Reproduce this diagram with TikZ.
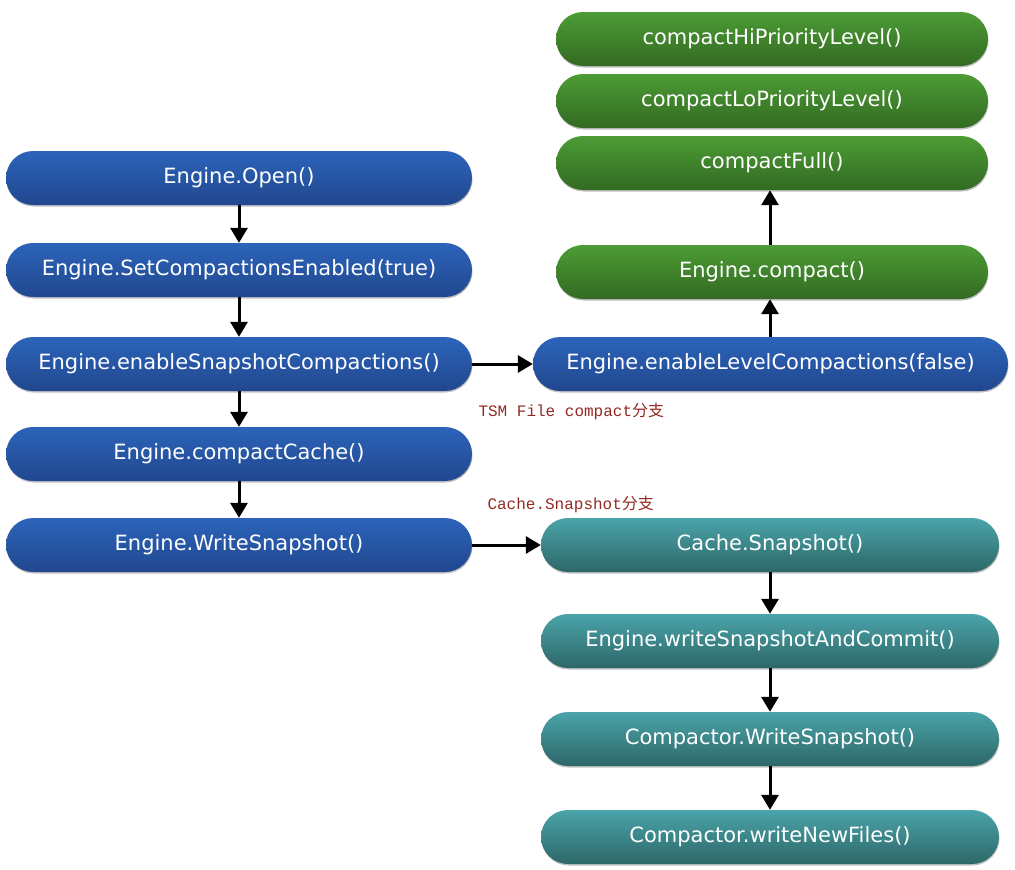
\documentclass[tikz,border=0pt]{standalone}
\usepackage{fontspec}
\setmainfont{DejaVu Sans}
\newfontfamily\monofont{Liberation Mono}
\newfontfamily\cjkfont{Noto Sans CJK SC}
\usetikzlibrary{arrows.meta,shadows}
\definecolor{bluetop}{HTML}{2C64BA}
\definecolor{bluebot}{HTML}{21478E}
\definecolor{greentop}{HTML}{4C9C35}
\definecolor{greenbot}{HTML}{336A22}
\definecolor{tealtop}{HTML}{4AA4AA}
\definecolor{tealbot}{HTML}{2D6768}
\definecolor{branchred}{HTML}{922A22}

\begin{document}
\begin{tikzpicture}[x=1pt, y=-1pt,
	 callnode/.style={rounded corners=27pt, minimum height=54pt, inner sep=0pt,
	   text=white, font=\fontsize{21}{24}\selectfont,
	   drop shadow={shadow xshift=0.5pt, shadow yshift=-1.5pt, opacity=0.35, fill=black!70}},
	 bluenode/.style={callnode, top color=bluetop, bottom color=bluebot},
	 greennode/.style={callnode, top color=greentop, bottom color=greenbot, minimum width=432pt},
	 tealnode/.style={callnode, top color=tealtop, bottom color=tealbot, minimum width=458pt},
	 flow/.style={line width=3pt, -{Triangle[length=15pt,width=17pt]}},
	 branch/.style={anchor=west, text=branchred, font=\monofont\fontsize{16}{18}\selectfont}]
	    \useasboundingbox (0,0) rectangle (1015,870);
	    % main path
	    \node (open) at (239,178) [bluenode, minimum width=466pt] {Engine.Open()};
	    \node (enable) at (239,270) [bluenode, minimum width=466pt] {Engine.SetCompactionsEnabled(true)};
	    \node (snap) at (239,364) [bluenode, minimum width=466pt] {Engine.enableSnapshotCompactions()};
	    \node (cache) at (239,454) [bluenode, minimum width=466pt] {Engine.compactCache()};
	    \node (write) at (239,545) [bluenode, minimum width=466pt] {Engine.WriteSnapshot()};
	    \draw[flow] (open) -- (enable);
	    \draw[flow] (enable) -- (snap);
	    \draw[flow] (snap) -- (cache);
	    \draw[flow] (cache) -- (write);
	    % TSM file compact branch
	    \node (level) at (770.5,364) [bluenode, minimum width=475pt] {Engine.enableLevelCompactions(false)};
	    \node (compact) at (772,272) [greennode] {Engine.compact()};
	    \node (full) at (772,163) [greennode] {compactFull()};
	    \node (lo) at (772,101) [greennode] {compactLoPriorityLevel()};
	    \node (hi) at (772,39) [greennode] {compactHiPriorityLevel()};
	    \draw[flow] (snap.east) -- (level.west);
	    \draw[flow] (level.north -| 770,0) -- (compact.south -| 770,0);
	    \draw[flow] (compact.north -| 770,0) -- (full.south -| 770,0);
	    \node (tsmlabel) at (475,411) [branch] {TSM File compact{\cjkfont 分支}};
	    % cache snapshot branch
	    \node (snapshot) at (770,545) [tealnode] {Cache.Snapshot()};
	    \node (commit) at (770,641) [tealnode] {Engine.writeSnapshotAndCommit()};
	    \node (cwrite) at (770,739) [tealnode] {Compactor.WriteSnapshot()};
	    \node (newfiles) at (770,837) [tealnode] {Compactor.writeNewFiles()};
	    \draw[flow] (write.east) -- (snapshot.west);
	    \draw[flow] (snapshot) -- (commit);
	    \draw[flow] (commit) -- (cwrite);
	    \draw[flow] (cwrite) -- (newfiles);
	    \node (cachelabel) at (484,504) [branch] {Cache.Snapshot{\cjkfont 分支}};
\end{tikzpicture}
\end{document}
